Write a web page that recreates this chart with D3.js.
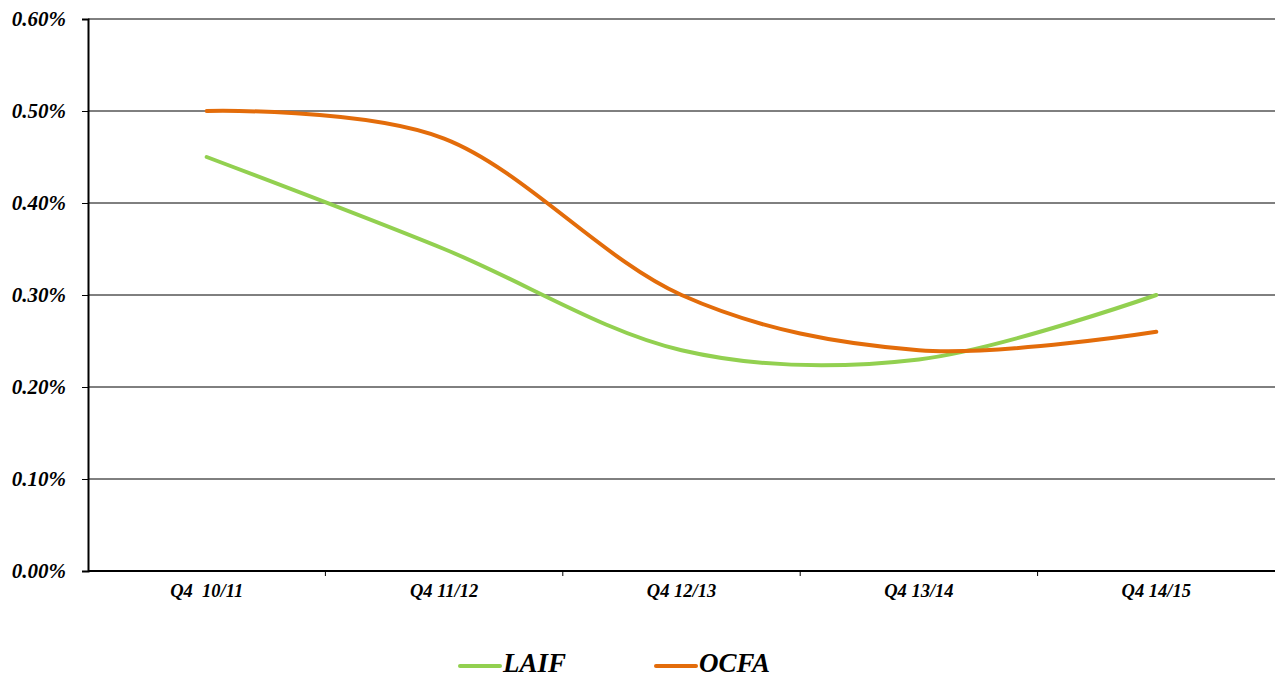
<!DOCTYPE html>
<html>
<head>
<meta charset="utf-8">
<script src="https://cdn.jsdelivr.net/npm/d3@7"></script>
<style>
  html, body { margin: 0; padding: 0; background: #fff; }
  svg { display: block; }
  text { font-family: "Liberation Serif", "Times New Roman", serif; font-weight: bold; font-style: italic; fill: #000; }
</style>
</head>
<body>
<svg id="chart" width="1275" height="679"></svg>
<script>
// Quarterly yields
const categories = ["Q4  10/11", "Q4 11/12", "Q4 12/13", "Q4 13/14", "Q4 14/15"];
const laif = [0.0045, 0.0035, 0.0024, 0.0023, 0.0030];
const ocfa = [0.0050, 0.0047, 0.0030, 0.0024, 0.0026];
const yTicks = [0, 0.001, 0.002, 0.003, 0.004, 0.005, 0.006];
const seriesNames = ["LAIF", "OCFA"];
const seriesColors = ["#92D050", "#E36C0A"];

const svg = d3.select("#chart");
const plotLeft = 88, plotRight = 1275, plotTop = 19, plotBottom = 571;

const x = d3.scaleBand().domain(categories).range([plotLeft, plotRight]);
const y = d3.scaleLinear().domain([0, 0.006]).range([plotBottom, plotTop]);

// horizontal gridlines
svg.append("g").selectAll("line").data(yTicks.filter(d => d > 0)).join("line")
  .attr("x1", plotLeft).attr("x2", plotRight)
  .attr("y1", d => y(d)).attr("y2", d => y(d))
  .attr("stroke", "#000").attr("stroke-width", 1);

// y axis
const yAxis = svg.append("g").attr("transform", `translate(${plotLeft},0)`)
  .call(d3.axisLeft(y).tickValues(yTicks).tickFormat(d3.format(".2%")).tickSize(6).tickPadding(16));
yAxis.attr("font-family", null).attr("font-size", null);
yAxis.select(".domain").attr("stroke", "#000").attr("stroke-width", 2);
yAxis.selectAll(".tick line").attr("stroke", "#000");
yAxis.selectAll(".tick text").style("font-size", "21px").attr("fill", "#000");

// x axis with ticks at band edges
svg.append("line").attr("x1", plotLeft).attr("x2", plotRight).attr("y1", plotBottom).attr("y2", plotBottom)
  .attr("stroke", "#000").attr("stroke-width", 2);
const edges = categories.map(c => x(c)).slice(1);
svg.append("g").selectAll("line").data(edges).join("line")
  .attr("x1", d => d).attr("x2", d => d).attr("y1", plotBottom).attr("y2", plotBottom + 5)
  .attr("stroke", "#000").attr("stroke-width", 1);
svg.append("g").selectAll("text").data(categories).join("text")
  .attr("x", d => x(d) + x.bandwidth() / 2)
  .attr("y", plotBottom + 26)
  .attr("text-anchor", "middle")
  .style("font-size", "18.5px")
  .style("white-space", "pre")
  .text(d => d);

// series lines
const line = d3.line()
  .x((d, i) => x(categories[i]) + x.bandwidth() / 2)
  .y(d => y(d))
  .curve(d3.curveCardinal.tension(0));

[laif, ocfa].forEach((vals, k) => {
  svg.append("path").datum(vals)
    .attr("d", line)
    .attr("fill", "none")
    .attr("stroke", seriesColors[k])
    .attr("stroke-width", 4)
    .attr("stroke-linecap", "round");
});

// legend
const legendPos = [460, 656];
const lg = svg.append("g").selectAll("g").data(seriesNames).join("g")
  .attr("transform", (d, i) => `translate(${legendPos[i]},666)`);
lg.append("line").attr("x1", 0).attr("x2", 40).attr("y1", 0).attr("y2", 0)
  .attr("stroke", (d, i) => seriesColors[i]).attr("stroke-width", 4).attr("stroke-linecap", "round");
lg.append("text").attr("x", 43).attr("y", 6).style("font-size", "27px").text(d => d);
</script>
</body>
</html>
